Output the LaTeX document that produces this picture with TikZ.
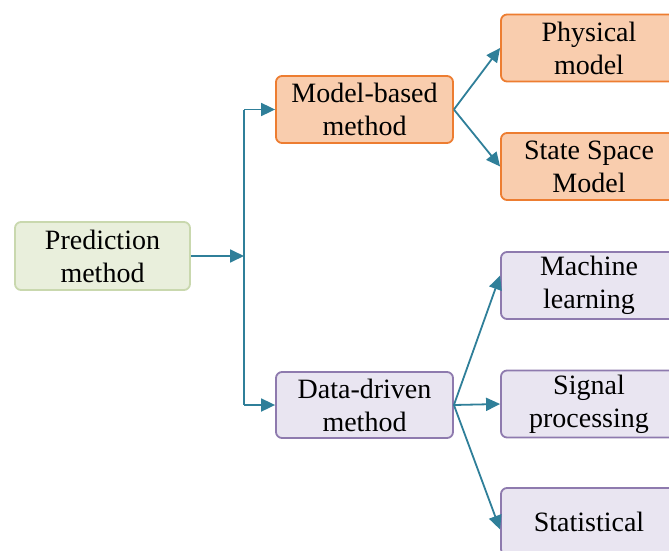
\documentclass[tikz,border=0pt]{standalone}
\usepackage{fontspec}
\setmainfont{Liberation Serif}
\usetikzlibrary{arrows.meta}
\definecolor{greenfill}{HTML}{E9EFDC}
\definecolor{greenline}{HTML}{C9D8AE}
\definecolor{orangefill}{HTML}{F9CDAE}
\definecolor{orangeline}{HTML}{ED7D31}
\definecolor{purplefill}{HTML}{E9E5F1}
\definecolor{purpleline}{HTML}{8E7AAE}
\definecolor{linkcol}{HTML}{2F7F99}
\tikzset{
  box/.style={rounded corners=6pt, line width=1.8pt, align=center,
    font=\fontsize{28}{33}\selectfont, inner sep=0pt},
  rootbox/.style={box, fill=greenfill, draw=greenline, minimum width=175pt, minimum height=68pt},
  modelbox/.style={box, fill=orangefill, draw=orangeline, minimum width=177pt, minimum height=67pt},
  databox/.style={box, fill=purplefill, draw=purpleline, minimum width=177pt, minimum height=66pt},
  leafM/.style={modelbox, minimum width=176pt},
  leafD/.style={databox, minimum width=176pt, minimum height=67pt},
  link/.style={draw=linkcol, line width=1.8pt, -{Triangle[length=14pt,width=13pt]}},
}
\begin{document}
\begin{tikzpicture}[x=1pt,y=-1pt]
  \useasboundingbox (0,0) rectangle (669,551);
  \clip (0,0) rectangle (669,551);

  % root
  \node[rootbox] (root) at (102.5,256) {Prediction\\method};

  % second level
  \node[modelbox] (model) at (364.5,109.5) {Model-based\\method};
  \node[databox] (data) at (364.5,405) {Data-driven\\method};

  % leaves
  \node[leafM] (phys) at (589,48) {Physical\\model};
  \node[leafM] (ssm) at (589,166.5) {State Space\\Model};
  \node[leafD] (ml) at (589,285.5) {Machine\\learning};
  \node[leafD] (sig) at (589,404) {Signal\\processing};
  \node[leafD] (stat) at (589,521.5) {Statistical};

  % trunk
  \coordinate (jt) at (244,109.5);
  \coordinate (jm) at (244,256);
  \coordinate (jb) at (244,405);
  \draw[draw=linkcol, line width=1.8pt] (jt) -- (jb);
  \draw[link] (root.east) -- (jm);
  \draw[link] (jt) -- (model.west);
  \draw[link] (jb) -- (data.west);

  % fan-out
  \draw[link] (model.east) -- (phys.west);
  \draw[link] (model.east) -- (ssm.west);
  \draw[link] (data.east) -- ([yshift=10pt]ml.west);
  \draw[link] (data.east) -- (sig.west);
  \draw[link] (data.east) -- ([yshift=-8pt]stat.west);
\end{tikzpicture}
\end{document}
